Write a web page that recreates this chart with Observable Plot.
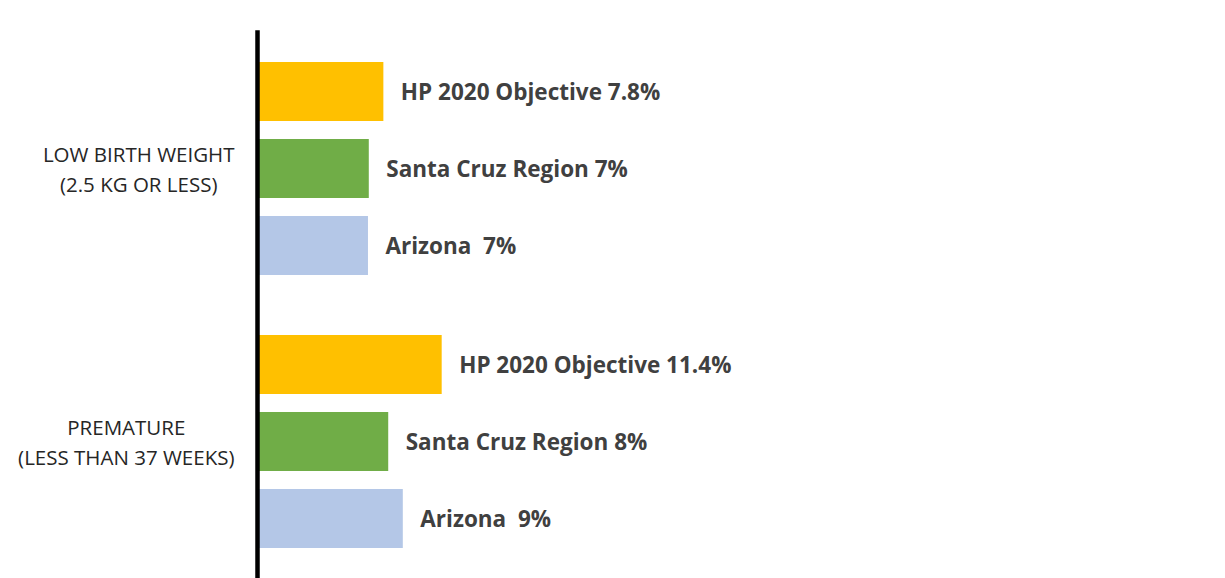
<!DOCTYPE html>
<html>
<head>
<meta charset="utf-8">
<script src="https://cdn.jsdelivr.net/npm/d3@7"></script>
<script src="https://cdn.jsdelivr.net/npm/@observablehq/plot@0.6"></script>
<style>
  html, body { margin: 0; padding: 0; background: #fff; }
  svg text { white-space: pre; }
</style>
</head>
<body>
<div id="chart"></div>
<script>
const categories = ["LOW BIRTH WEIGHT\n(2.5 KG OR LESS)", "PREMATURE\n(LESS THAN 37 WEEKS)"];
const series = ["HP 2020 Objective", "Santa Cruz Region", "Arizona"];
const colors = ["#FFC000", "#70AD47", "#B4C7E7"];
const lowBirthWeightValues = [7.8, 6.9, 6.85];
const prematureValues = [11.4, 8.1, 9.0];
const lowBirthWeightLabels = ["HP 2020 Objective 7.8%", "Santa Cruz Region 7%", "Arizona  7%"];
const prematureLabels = ["HP 2020 Objective 11.4%", "Santa Cruz Region 8%", "Arizona  9%"];

const rows = [];
[[lowBirthWeightValues, lowBirthWeightLabels], [prematureValues, prematureLabels]].forEach(([vals, labs], ci) => {
  series.forEach((s, si) => rows.push({category: categories[ci], series: s, value: vals[si], label: labs[si]}));
});

const FONT = "'Open Sans', Lato, sans-serif";
const catFontSize = 20.5;
const catGap = 23;
// Category text blocks: each line centred, block's widest line ends catGap px left of the axis
const ctx = document.createElement("canvas").getContext("2d");
ctx.font = `${catFontSize}px ${FONT}`;
const catMarks = categories.map(c => {
  const w = Math.max(...c.split("\n").map(l => ctx.measureText(l).width));
  return Plot.text([c], {fy: d => d, text: d => d, frameAnchor: "left", textAnchor: "middle",
    dx: -(catGap + w / 2), dy: -2, fontSize: catFontSize, lineHeight: 1.46, fill: "#262626"});
});

const chart = Plot.plot({
  width: 1225,
  height: 578,
  marginLeft: 257,
  marginRight: 320,
  marginTop: 32,
  marginBottom: 0,
  style: {fontFamily: FONT, background: "#fff"},
  x: {domain: [0, 40], axis: null},
  y: {domain: series, paddingInner: 0.234, paddingOuter: 0.117, axis: null},
  fy: {domain: categories, paddingInner: 0.155, paddingOuter: 0.076, axis: null},
  color: {domain: series, range: colors},
  marks: [
    Plot.barX(rows, {x: "value", y: "series", fy: "category", fill: "series"}),
    Plot.text(rows, {x: "value", y: "series", fy: "category", text: "label", dx: 17, dy: 1, textAnchor: "start", fontWeight: "bold", fontSize: 22.5, fill: "#404040"}),
    ...catMarks,
    Plot.frame({anchor: "left", stroke: "black", strokeWidth: 4.5, insetTop: -21, insetBottom: -21, facet: "super"})
  ]
});
document.getElementById("chart").appendChild(chart);
</script>
</body>
</html>
